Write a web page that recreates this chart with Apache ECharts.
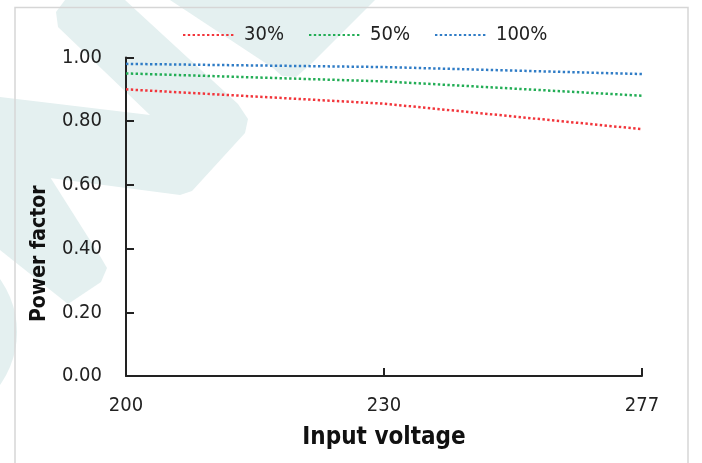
<!DOCTYPE html>
<html>
<head>
<meta charset="utf-8">
<script src="https://cdn.jsdelivr.net/npm/echarts@6/dist/echarts.min.js"></script>
<style>
html,body{margin:0;padding:0;background:#fff;}
#c{width:702px;height:463px;}
</style>
</head>
<body>
<div id="c"></div>
<script>
var categories = ['200', '230', '277'];
var load30 = [0.90, 0.855, 0.775];
var load50 = [0.95, 0.925, 0.88];
var load100 = [0.98, 0.97, 0.948];
var seriesNames = ['30%', '50%', '100%'];

var WM = '#e4f0f0';
var FONT = '"DejaVu Sans Condensed", "DejaVu Sans", sans-serif';

var chart = echarts.init(document.getElementById('c'), null, {renderer: 'canvas'});

function mkSeries(name, data, color) {
  return {
    name: name,
    type: 'line',
    data: data,
    symbol: 'none',
    showSymbol: false,
    z: 5,
    lineStyle: {color: color, width: 2.5, type: [2.4, 2.4]},
    itemStyle: {color: color}
  };
}

chart.setOption({
  animation: false,
  backgroundColor: '#ffffff',
  graphic: [
    {type: 'polygon', z: -10, silent: true,
     shape: {points: [[65,0],[125,0],[238,104],[248,119],[245,133],[192,191],[180,195],[50,178],[0,172],[0,97],[150,115],[58,27],[56,12]]},
     style: {fill: WM}},
    {type: 'polygon', z: -10, silent: true,
     shape: {points: [[170,0],[375,0],[312,63],[296,77],[282,76],[273,68]]},
     style: {fill: WM}},
    {type: 'polygon', z: -10, silent: true,
     shape: {points: [[0,170],[50,177],[100,256],[107,268],[101,282],[68,304],[0,250]]},
     style: {fill: WM}},
    {type: 'circle', z: -10, silent: true,
     shape: {cx: -74, cy: 332, r: 91},
     style: {fill: WM}},
    {type: 'rect', z: -5, silent: true,
     shape: {x: 15, y: 7.5, width: 673, height: 480},
     style: {fill: 'none', stroke: '#d6d6d6', lineWidth: 1.5}}
  ],
  legend: {
    data: seriesNames,
    left: 177,
    top: 20,
    itemWidth: 51,
    itemHeight: 10,
    itemGap: 24,
    itemStyle: {opacity: 0},
    textStyle: {fontFamily: FONT, fontSize: 20, color: '#222', padding: [0, 0, 0, 5]}
  },
  grid: {left: 126, right: 60, top: 57.5, bottom: 87, containLabel: false},
  xAxis: {
    type: 'category',
    data: categories,
    boundaryGap: false,
    name: 'Input voltage',
    nameLocation: 'middle',
    nameGap: 50,
    nameTextStyle: {fontFamily: FONT, fontSize: 24, fontWeight: 'bold', color: '#111'},
    axisLine: {lineStyle: {color: '#222', width: 2}},
    axisTick: {inside: true, length: 8, lineStyle: {color: '#222', width: 2}, alignWithLabel: true},
    axisLabel: {fontFamily: FONT, fontSize: 20, color: '#222', margin: 20},
    splitLine: {show: false}
  },
  yAxis: {
    type: 'value',
    min: 0,
    max: 1,
    interval: 0.2,
    name: 'Power factor',
    nameLocation: 'middle',
    nameGap: 76,
    nameTextStyle: {fontFamily: FONT, fontSize: 21, fontWeight: 'bold', color: '#111', padding: [0, 74, 0, 0]},
    axisLine: {show: true, lineStyle: {color: '#222', width: 2}},
    axisTick: {show: true, inside: true, length: 8, lineStyle: {color: '#222', width: 2}},
    axisLabel: {fontFamily: FONT, fontSize: 20, color: '#222', margin: 24,
      formatter: function (v) { return v.toFixed(2); }},
    splitLine: {show: false}
  },
  series: [
    mkSeries(seriesNames[0], load30, '#f2353b'),
    mkSeries(seriesNames[1], load50, '#22ad55'),
    mkSeries(seriesNames[2], load100, '#2f7cc6')
  ]
});
</script>
</body>
</html>
